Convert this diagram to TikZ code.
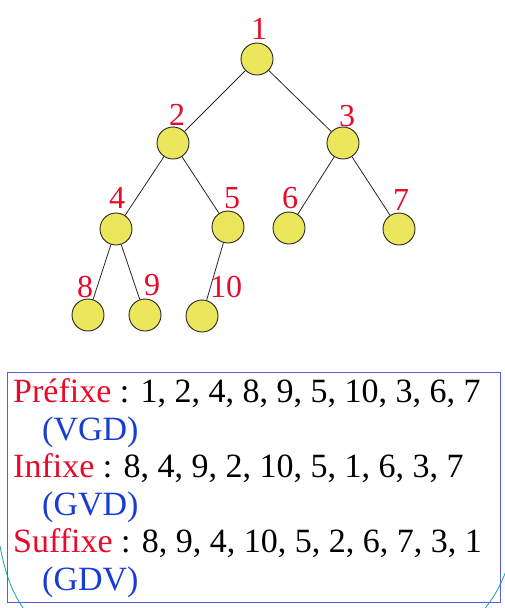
\documentclass[tikz,border=0pt]{standalone}
\usepackage{fontspec}
\setmainfont{Liberation Serif}
\definecolor{lblred}{RGB}{232,10,40}
\definecolor{txtblue}{RGB}{25,60,215}
\definecolor{boxblue}{RGB}{85,95,215}
\definecolor{nodefill}{RGB}{236,230,92}
\definecolor{arcteal}{RGB}{20,165,160}
\begin{document}
\begin{tikzpicture}[x=1pt,y=-1pt,
  vert/.style={circle,draw=black!85,fill=nodefill,line width=0.9pt,minimum size=32pt,inner sep=0pt},
  lbl/.style={text=lblred,anchor=base,inner sep=0pt,font=\fontsize{32}{36}\selectfont},
  edge/.style={draw=black!85,line width=0.8pt},
  tline/.style={anchor=base west,inner sep=0pt,font=\fontsize{34}{38}\selectfont}]
\useasboundingbox (0,0) rectangle (505,608);
% background arcs
\begin{scope}
\clip (0,0) rectangle (505,608);
\draw[arcteal,line width=0.8pt] (0,546) .. controls (6,578) and (14,596) .. (26,612);
\draw[arcteal,line width=0.8pt] (507,568) .. controls (500,588) and (492,600) .. (482,612);
\end{scope}
% nodes
\node[vert] (n1) at (257,59) {};
\node[vert] (n2) at (173,143) {};
\node[vert] (n3) at (343,143) {};
\node[vert] (n4) at (116,229) {};
\node[vert] (n5) at (228,227) {};
\node[vert] (n6) at (289,228) {};
\node[vert] (n7) at (399,229) {};
\node[vert] (n8) at (88,315) {};
\node[vert] (n9) at (145,315) {};
\node[vert] (n10) at (202,316) {};
% edges
\begin{scope}[on background layer/.style={}]
\end{scope}
\draw[edge] (n1) -- (n2);
\draw[edge] (n1) -- (n3);
\draw[edge] (n2) -- (n4);
\draw[edge] (n2) -- (n5);
\draw[edge] (n3) -- (n6);
\draw[edge] (n3) -- (n7);
\draw[edge] (n4) -- (n8);
\draw[edge] (n4) -- (n9);
\draw[edge] (n5) -- (n10);
% labels
\node[lbl] (l1) at (259,39) {1};
\node[lbl] (l2) at (177,125) {2};
\node[lbl] (l3) at (347,126) {3};
\node[lbl] (l4) at (117,208) {4};
\node[lbl] (l5) at (232,208) {5};
\node[lbl] (l6) at (290,208) {6};
\node[lbl] (l7) at (401,210) {7};
\node[lbl] (l8) at (85,297) {8};
\node[lbl] (l9) at (152,295) {9};
\node[lbl] (l10) at (226,297) {10};
% box
\draw[boxblue,line width=0.9pt] (7,372) rectangle (500,602);
\node[tline] (t1) at (13,402) {\textcolor{lblred}{Préfixe} : 1, 2, 4, 8, 9, 5, 10, 3, 6, 7};
\node[tline,text=txtblue] (t2) at (42,440) {(VGD)};
\node[tline] (t3) at (13,477) {\textcolor{lblred}{Infixe} : 8, 4, 9, 2, 10, 5, 1, 6, 3, 7};
\node[tline,text=txtblue] (t4) at (42,515) {(GVD)};
\node[tline] (t5) at (13,552) {\textcolor{lblred}{Suffixe} : 8, 9, 4, 10, 5, 2, 6, 7, 3, 1};
\node[tline,text=txtblue] (t6) at (42,590) {(GDV)};
\end{tikzpicture}
\end{document}
